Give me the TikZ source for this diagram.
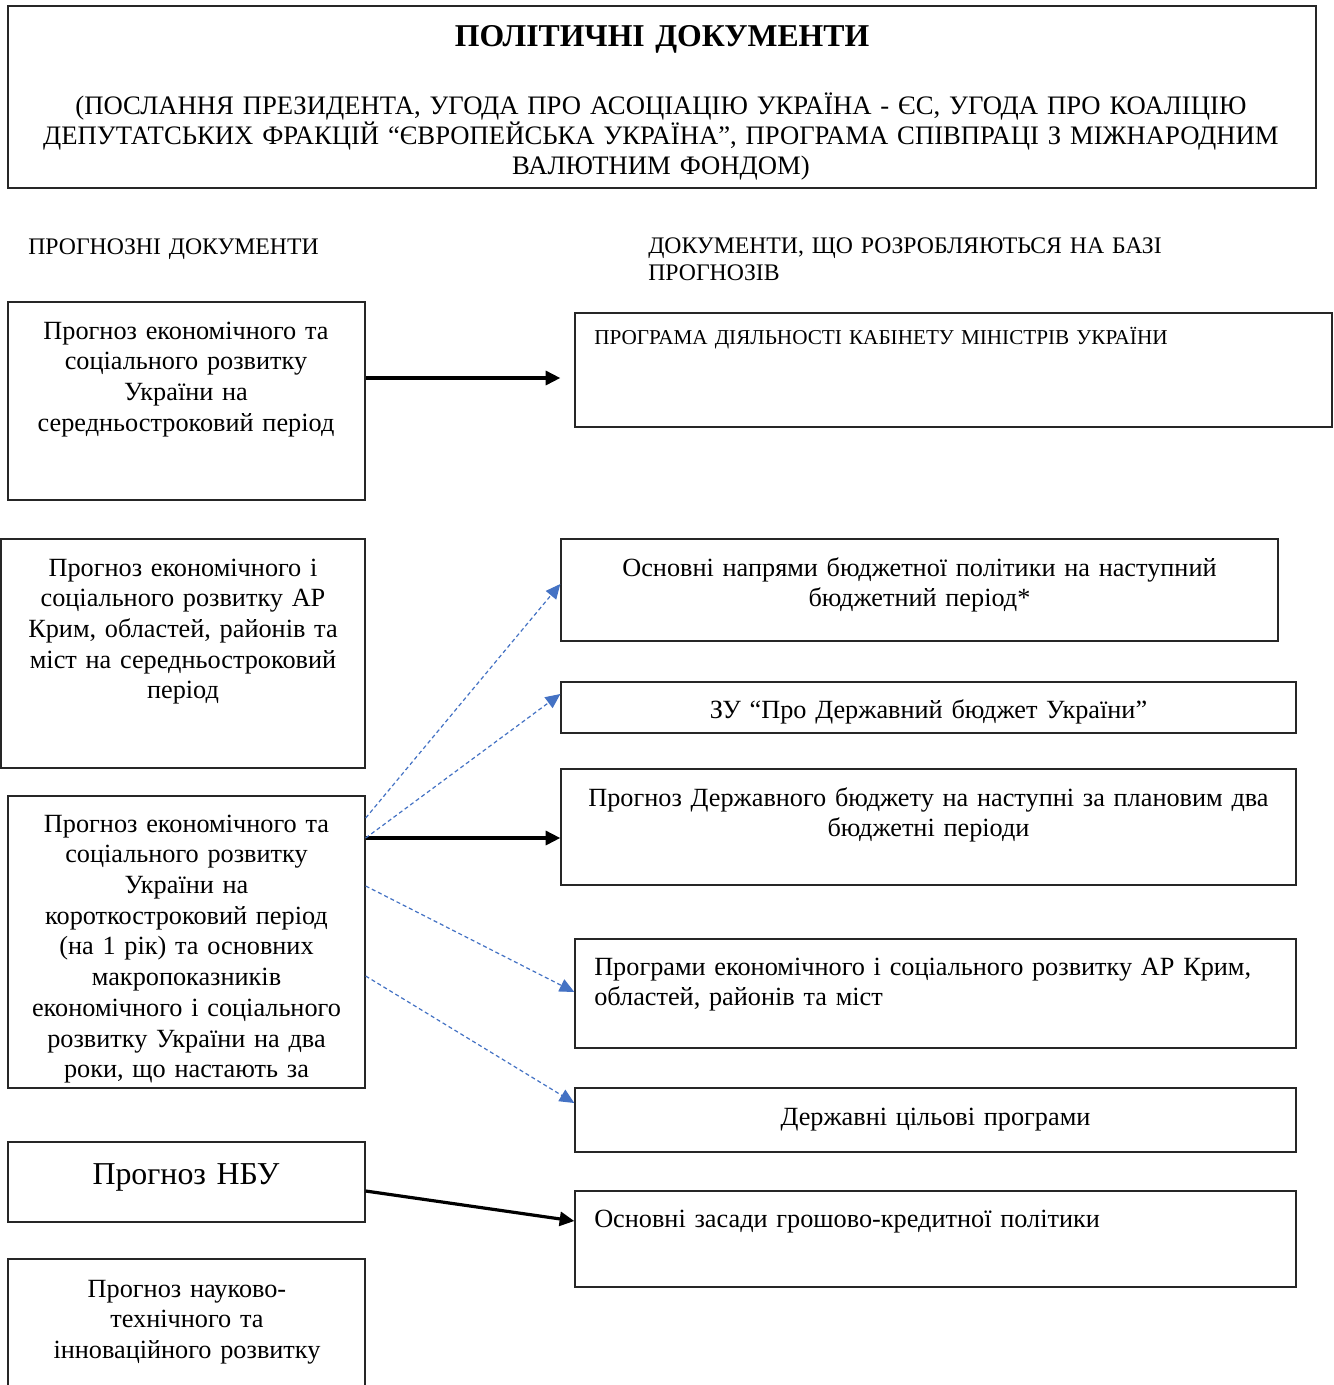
\documentclass[tikz,border=0pt]{standalone}
\usepackage{fontspec}
\setmainfont{Liberation Serif}
\usetikzlibrary{arrows.meta,fit,calc}
\newcommand\bodyfont{\fontsize{19.7}{23.06}\selectfont}
\newcommand\headfont{\fontsize{17.8}{20.25}\selectfont}
\newcommand\titlefont{\fontsize{23.8}{28}\selectfont\bfseries}
\newcommand\smallcapsfont{\fontsize{15.9}{20}\selectfont}
\newcommand\bigfont{\fontsize{23.9}{30}\selectfont}
\begin{document}
\begin{tikzpicture}[x=0.75pt,y=-0.75pt,
  box/.style={draw=black!85, line width=1pt, inner sep=0pt},
  tc/.style={inner sep=0pt, text width=#1, align=center, anchor=base, font=\bodyfont},
  tl/.style={inner sep=0pt, text width=#1, align=left, anchor=base west, font=\bodyfont},
  blk/.style={line width=2.4pt, -{Triangle[length=11pt,width=10.5pt]}},
  blu/.style={draw={rgb,255:red,68;green,114;blue,196}, line width=0.9pt,
     dash pattern=on 3pt off 2.2pt,
     -{Triangle[length=11pt,width=10pt,fill={rgb,255:red,68;green,114;blue,196}]}}]
\clip (0,0) rectangle (1334,1385);
\fill[white] (0,0) rectangle (1334,1385);

% top box
\node[box, fit={(8,6) (1316,188)}] (top) {};
\node[tc=900pt, font=\titlefont] (title) at (662,46) {ПОЛІТИЧНІ ДОКУМЕНТИ};
\node[tc=1000pt, font=\fontsize{20}{22.5}\selectfont] (paren) at (661,114.5)
  {(ПОСЛАННЯ ПРЕЗИДЕНТА, УГОДА ПРО АСОЦІАЦІЮ УКРАЇНА - ЄС, УГОДА ПРО КОАЛІЦІЮ\\
   ДЕПУТАТСЬКИХ ФРАКЦІЙ “ЄВРОПЕЙСЬКА УКРАЇНА”, ПРОГРАМА СПІВПРАЦІ З МІЖНАРОДНИМ\\
   ВАЛЮТНИМ ФОНДОМ)};

% headings
\node[tl=400pt, font=\headfont] (hl) at (28,254) {ПРОГНОЗНІ ДОКУМЕНТИ};
\node[tl=500pt, font=\headfont] (hr) at (648,253) {ДОКУМЕНТИ, ЩО РОЗРОБЛЯЮТЬСЯ НА БАЗІ\\ПРОГНОЗІВ};

% left boxes
\node[box, fit={(8,302) (365,500)}] (L1) {};
\node[tc=300pt] (L1t) at (186,339)
  {Прогноз економічного та\\соціального розвитку\\України на\\середньостроковий період};

\node[box, fit={(1,539) (365,768)}] (L2) {};
\node[tc=300pt] (L2t) at (183,576)
  {Прогноз економічного і\\соціального розвитку АР\\Крим, областей, районів та\\міст на середньостроковий\\період};

\node[box, fit={(8,796) (365,1088)}] (L3) {};
\node[tc=300pt] (L3t) at (186.5,832)
  {Прогноз економічного та\\соціального розвитку\\України на\\короткостроковий період\\(на 1 рік) та основних\\макропоказників\\економічного і соціального\\розвитку України на два\\роки, що настають за};

\node[box, fit={(8,1142) (365,1222)}] (L4) {};
\node[tc=300pt, font=\bigfont] (L4t) at (186,1184) {Прогноз НБУ};

\node[box, fit={(8,1259) (365,1400)}] (L5) {};
\node[tc=300pt] (L5t) at (187,1297)
  {Прогноз науково-\\технічного та\\інноваційного розвитку};

% right boxes
\node[box, fit={(575,313) (1332,427)}] (R1) {};
\node[tl=700pt, font=\smallcapsfont] (R1t) at (594,344) {ПРОГРАМА ДІЯЛЬНОСТІ КАБІНЕТУ МІНІСТРІВ УКРАЇНИ};

\node[box, fit={(561,539) (1278,641)}] (R2) {};
\node[tc=650pt] (R2t) at (919.5,576)
  {Основні напрями бюджетної політики на наступний\\бюджетний період*};

\node[box, fit={(561,682) (1296,733)}] (R3) {};
\node[tc=650pt] (R3t) at (928.5,718) {ЗУ “Про Державний бюджет України”};

\node[box, fit={(561,769) (1296,885)}] (R4) {};
\node[tc=650pt] (R4t) at (928.5,806)
  {Прогноз Державного бюджету на наступні за плановим два\\бюджетні періоди};

\node[box, fit={(575,939) (1296,1048)}] (R5) {};
\node[tl=650pt] (R5t) at (594,975)
  {Програми економічного і соціального розвитку АР Крим,\\областей, районів та міст};

\node[box, fit={(575,1088) (1296,1152)}] (R6) {};
\node[tc=650pt] (R6t) at (935.5,1125) {Державні цільові програми};

\node[box, fit={(575,1191) (1296,1287)}] (R7) {};
\node[tl=650pt] (R7t) at (594,1227) {Основні засади грошово-кредитної політики};

% connectors
\coordinate (R1in) at ($(R1.west |- 0,378)+(-14,0)$);
\draw[blk] (L1.east |- 0,378) -- (R1in);
\draw[blk] (L3.east |- 0,838) -- (R4.west |- 0,838);
\draw[blk] (L4.east |- 0,1191) -- (R7.west |- 0,1221);
\draw[blu] (L3.east |- 0,818) -- (R2.west |- 0,584);
\draw[blu] (L3.east |- 0,838) -- (R3.west |- 0,694);
\draw[blu] (L3.east |- 0,886) -- (R5.west |- 0,992);
\draw[blu] (L3.east |- 0,976) -- (R6.west |- 0,1103);
\end{tikzpicture}
\end{document}
